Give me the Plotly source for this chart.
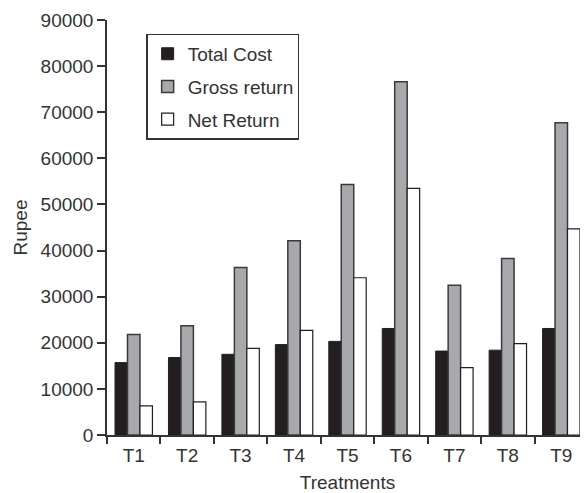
import plotly.graph_objects as go

treatments = ["T1", "T2", "T3", "T4", "T5", "T6", "T7", "T8", "T9"]
total_cost = [15700, 16800, 17500, 19600, 20300, 23100, 18200, 18400, 23100]
gross_return = [21800, 23700, 36300, 42100, 54300, 76600, 32500, 38300, 67700]
net_return = [6300, 7200, 18800, 22700, 34100, 53500, 14600, 19800, 44700]

ink = "#333333"
font_main = "Liberation Sans"

fig = go.Figure()
fig.add_trace(go.Bar(name="Total Cost", x=treatments, y=total_cost, legendgroup="a",
                     marker=dict(color="#231f20", line=dict(color="#231f20", width=1))))
fig.add_trace(go.Bar(name="Gross return", x=treatments, y=gross_return, legendgroup="b",
                     marker=dict(color="#a7a9ac", line=dict(color="#3a3a3a", width=1.5))))
fig.add_trace(go.Bar(name="Net Return", x=treatments, y=net_return, legendgroup="c",
                     marker=dict(color="#ffffff", line=dict(color="#231f20", width=1.2))))

# page body adds an 8px offset; figure sized to fill the remaining window
fig.update_layout(
    width=580, height=485,
    margin=dict(l=99, r=0, t=12, b=58),
    paper_bgcolor="white", plot_bgcolor="white",
    barmode="group", bargap=0.3, bargroupgap=0,
    font=dict(family=font_main, color=ink, size=19),
    showlegend=True,
    legend=dict(x=0.082, y=0.967, xanchor="left", yanchor="top",
                bordercolor=ink, borderwidth=1.2, bgcolor="white",
                font=dict(size=19, family=font_main, color=ink),
                itemwidth=30, tracegroupgap=5),
    xaxis=dict(
        showline=True, linecolor=ink, linewidth=1.5,
        ticks="outside", ticklen=7, tickwidth=1.5, tickcolor=ink,
        tickson="boundaries", showgrid=False, automargin=False,
        tickfont=dict(size=19), ticklabelstandoff=2,
        title=dict(text="Treatments", font=dict(size=19), standoff=21),
    ),
    yaxis=dict(
        range=[0, 90000], dtick=10000, tickformat="d",
        showline=True, linecolor=ink, linewidth=1.5,
        ticks="outside", ticklen=8, tickwidth=1.5, tickcolor=ink,
        showgrid=False, zeroline=False, automargin=False,
        tickfont=dict(size=19),
        title=dict(text="Rupee", font=dict(size=19), standoff=8),
    ),
)

fig.write_html("out.html")
